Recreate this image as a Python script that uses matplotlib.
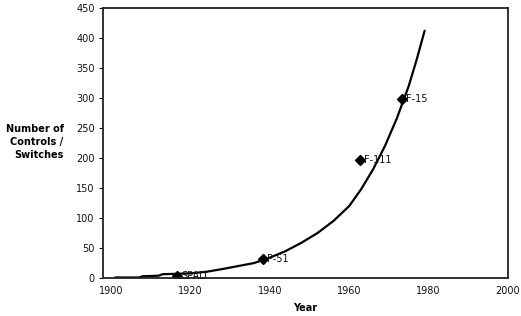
# Growth of cockpit controls / switches over time

import numpy as np
import matplotlib
matplotlib.use('Agg')
from matplotlib import pyplot as plt

# trend line
years = [1901, 1907, 1908, 1912, 1913, 1916, 1920, 1924, 1928, 1932, 1936,
         1940, 1944, 1948, 1952, 1956, 1960, 1963, 1966, 1969, 1972, 1975,
         1977, 1979]
counts = [1, 1, 3, 4, 6.5, 7, 8, 10.5, 15, 20, 25,
          34, 45, 59, 75, 95, 120, 148, 181, 220, 266, 320,
          364, 412]

# aircraft points
aircraft = ['SPAD', 'P-51', 'F-111', 'F-15']
aircraft_years = [1916.7, 1938.3, 1962.8, 1973.2]
aircraft_counts = [4, 32, 196, 298]

xticks = [1900, 1920, 1940, 1960, 1980, 2000]
yticks = list(range(0, 451, 50))

fig = plt.figure(figsize=(5.21, 3.16), dpi=100)
ax = fig.add_axes([0.198, 0.12, 0.777, 0.855])

ax.plot(years, counts, color='black', lw=1.6, solid_capstyle='round',
        solid_joinstyle='round')
ax.plot(aircraft_years, aircraft_counts, 'D', color='black', ms=5.5)
for name, x, y in zip(aircraft, aircraft_years, aircraft_counts):
    ax.text(x + 1.0, y, name, fontsize=7, va='center', ha='left',
            family='DejaVu Sans', color='#111')

ax.set_xlim(1898, 2000)
ax.set_ylim(0, 450)
ax.set_xticks(xticks)
ax.set_yticks(yticks)
ax.tick_params(axis='x', length=0, pad=6, labelsize=7, colors='#111')
ax.tick_params(axis='y', length=3, width=0.8, pad=3, labelsize=7, colors='#111')
for s in ax.spines.values():
    s.set_linewidth(1.3)
    s.set_color('#222')

ax.set_xlabel('Year', fontsize=7, fontweight='bold', labelpad=5)
fig.text(0.122, 0.55, 'Number of\nControls /\nSwitches', fontsize=7,
         fontweight='bold', ha='right', va='center', linespacing=1.35)

plt.savefig('out.png', dpi=100)
